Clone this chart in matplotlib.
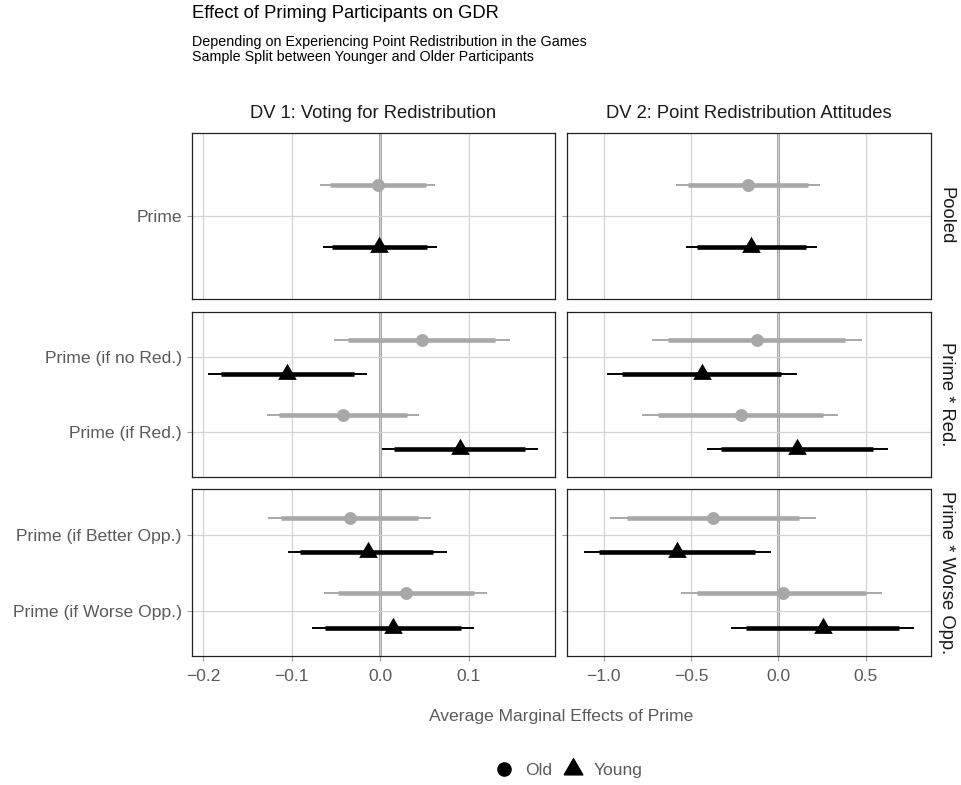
#!/usr/bin/env python3
# -*- coding: UTF-8 -*-
"""
    Coefficient plot: effect of priming participants on GDR,
    split by younger / older participants, two DVs in columns.
"""

import numpy as np
import matplotlib
matplotlib.use('Agg')
import matplotlib.pyplot as plt
from matplotlib.lines import Line2D

plt.rcParams['font.family'] = ['Liberation Sans', 'DejaVu Sans']

# Data #######################################################################
row_labels = ['Pooled', 'Prime * Red.', 'Prime * Worse Opp.']
col_labels = ['DV 1: Voting for Redistribution', 'DV 2: Point Redistribution Attitudes']
terms = ['Prime', 'Prime (if no Red.)', 'Prime (if Red.)',
         'Prime (if Better Opp.)', 'Prime (if Worse Opp.)']
term_row = [0, 1, 1, 2, 2]
groups = ['Old', 'Young']

# DV 1 (est, 90% interval, 95% interval)
old_dv1_est  = [-0.003,  0.047, -0.042, -0.034,  0.029]
old_dv1_lo90 = [-0.057, -0.036, -0.114, -0.112, -0.048]
old_dv1_hi90 = [ 0.052,  0.129,  0.030,  0.042,  0.106]
old_dv1_lo95 = [-0.068, -0.052, -0.128, -0.127, -0.063]
old_dv1_hi95 = [ 0.062,  0.146,  0.044,  0.057,  0.120]

young_dv1_est  = [-0.001, -0.105,  0.090, -0.014,  0.014]
young_dv1_lo90 = [-0.054, -0.180,  0.015, -0.090, -0.062]
young_dv1_hi90 = [ 0.053, -0.030,  0.163,  0.060,  0.091]
young_dv1_lo95 = [-0.065, -0.194,  0.002, -0.104, -0.077]
young_dv1_hi95 = [ 0.064, -0.015,  0.178,  0.075,  0.106]

# DV 2
old_dv2_est  = [-0.172, -0.120, -0.215, -0.372,  0.025]
old_dv2_lo90 = [-0.519, -0.630, -0.687, -0.868, -0.464]
old_dv2_hi90 = [ 0.172,  0.382,  0.254,  0.120,  0.502]
old_dv2_lo95 = [-0.586, -0.725, -0.778, -0.963, -0.557]
old_dv2_hi95 = [ 0.239,  0.477,  0.343,  0.216,  0.592]

young_dv2_est  = [-0.156, -0.439,  0.105, -0.578,  0.254]
young_dv2_lo90 = [-0.467, -0.893, -0.328, -1.025, -0.187]
young_dv2_hi90 = [ 0.159,  0.013,  0.540, -0.133,  0.693]
young_dv2_lo95 = [-0.528, -0.982, -0.410, -1.112, -0.271]
young_dv2_hi95 = [ 0.220,  0.105,  0.626, -0.044,  0.777]

x_ticks = [[-0.2, -0.1, 0.0, 0.1], [-1.0, -0.5, 0.0, 0.5]]
x_ticklabels = [['\u22120.2', '\u22120.1', '0.0', '0.1'],
                ['\u22121.0', '\u22120.5', '0.0', '0.5']]
x_limits = [(-0.2126, 0.197), (-1.208, 0.874)]

# Style ######################################################################
# equilateral triangle, centred on its centroid (like ggplot shape 17)
tri = [(-1, -0.577), (1, -0.577), (0, 1.155), (-1, -0.577)]
group_style = {'Old':   dict(color='#a8a8a8', marker='o', ms=9.3),
               'Young': dict(color='#000000', marker=tri, ms=15.5)}
dodge = 0.225
txt_grey = '#5a5a5a'
grid_col = '#d3d3d3'
tick_fs = 12.6
strip_fs = 13.2

data = {
    (0, 'Old'):   (old_dv1_est, old_dv1_lo90, old_dv1_hi90, old_dv1_lo95, old_dv1_hi95),
    (0, 'Young'): (young_dv1_est, young_dv1_lo90, young_dv1_hi90, young_dv1_lo95, young_dv1_hi95),
    (1, 'Old'):   (old_dv2_est, old_dv2_lo90, old_dv2_hi90, old_dv2_lo95, old_dv2_hi95),
    (1, 'Young'): (young_dv2_est, young_dv2_lo90, young_dv2_hi90, young_dv2_lo95, young_dv2_hi95),
}

fig = plt.figure(figsize=(9.61, 7.85), dpi=100)

W, H = 961., 785.
col_x = [(191.7, 555.0), (567.3, 931.0)]
row_y = [(132.7, 299.0), (311.7, 477.3), (489.3, 656.0)]

for r in range(3):
    idx = [i for i in range(len(terms)) if term_row[i] == r]
    n = len(idx)
    for c in range(2):
        x0, x1 = col_x[c]
        y0, y1 = row_y[r]
        ax = fig.add_axes([x0 / W, 1 - y1 / H, (x1 - x0) / W, (y1 - y0) / H])

        # positions: first term at top
        ypos = {i: n - k for k, i in enumerate(idx)}

        ax.set_xlim(*x_limits[c])
        ax.set_ylim(0.4, n + 0.6)
        ax.set_xticks(x_ticks[c])
        ax.set_yticks([ypos[i] for i in idx])
        ax.grid(True, color=grid_col, lw=0.9, zorder=0)
        ax.axvline(0, color='#808080', lw=1.8, zorder=1)

        for g in groups:
            est, lo90, hi90, lo95, hi95 = data[(c, g)]
            st = group_style[g]
            off = dodge if g == 'Old' else -dodge
            for i in idx:
                y = ypos[i] + off
                ax.plot([lo95[i], hi95[i]], [y, y], color=st['color'], lw=1.4,
                        solid_capstyle='butt', zorder=2)
                ax.plot([lo90[i], hi90[i]], [y, y], color=st['color'], lw=3.3,
                        solid_capstyle='butt', zorder=3)
                ax.plot(est[i], y, marker=st['marker'], color=st['color'],
                        ms=st['ms'], mec='none', zorder=4)

        for s in ax.spines.values():
            s.set_color('#222222')
            s.set_linewidth(0.9)
        ax.tick_params(colors='#a0a0a0', length=3.5, width=0.8,
                       labelcolor=txt_grey, labelsize=tick_fs)
        ax.tick_params(axis='x', pad=6)

        if c == 0:
            ax.set_yticklabels([terms[i] for i in idx])
        else:
            ax.set_yticklabels([])
        if r == 2:
            ax.set_xticklabels(x_ticklabels[c])
        else:
            ax.set_xticklabels([])
            ax.tick_params(axis='x', length=0)

        # strips
        if r == 0:
            fig.text((x0 + x1) / 2 / W, 1 - 114 / H, col_labels[c], ha='center',
                     va='center', fontsize=strip_fs, color='#1a1a1a')
        if c == 1:
            fig.text(946 / W, 1 - (y0 + y1) / 2 / H, row_labels[r], ha='center',
                     va='center', rotation=270, fontsize=strip_fs, color='#1a1a1a')

# Titles #####################################################################
fig.text(191.7 / W, 1 - 14 / H, 'Effect of Priming Participants on GDR',
         fontsize=13.2, color='black', va='center', ha='left')
fig.text(191.7 / W, 1 - 42 / H, 'Depending on Experiencing Point Redistribution in the Games',
         fontsize=10.3, color='black', va='center', ha='left')
fig.text(191.7 / W, 1 - 56.5 / H, 'Sample Split between Younger and Older Participants',
         fontsize=10.3, color='black', va='center', ha='left')

fig.text(561.3 / W, 1 - 717 / H, 'Average Marginal Effects of Prime', ha='center',
         va='center', fontsize=tick_fs, color=txt_grey)

# Legend #####################################################################
handles = [Line2D([], [], ls='none', marker='o', color='black', ms=9.5),
           Line2D([], [], ls='none', marker=tri, color='black', ms=15.5)]
fig.legend(handles, groups, loc='center', bbox_to_anchor=(568 / W, 1 - 770 / H),
           ncol=2, frameon=False, fontsize=tick_fs, labelcolor=txt_grey,
           handletextpad=0.6, columnspacing=0.6, handlelength=1.2)

fig.savefig('out.png', dpi=100)
